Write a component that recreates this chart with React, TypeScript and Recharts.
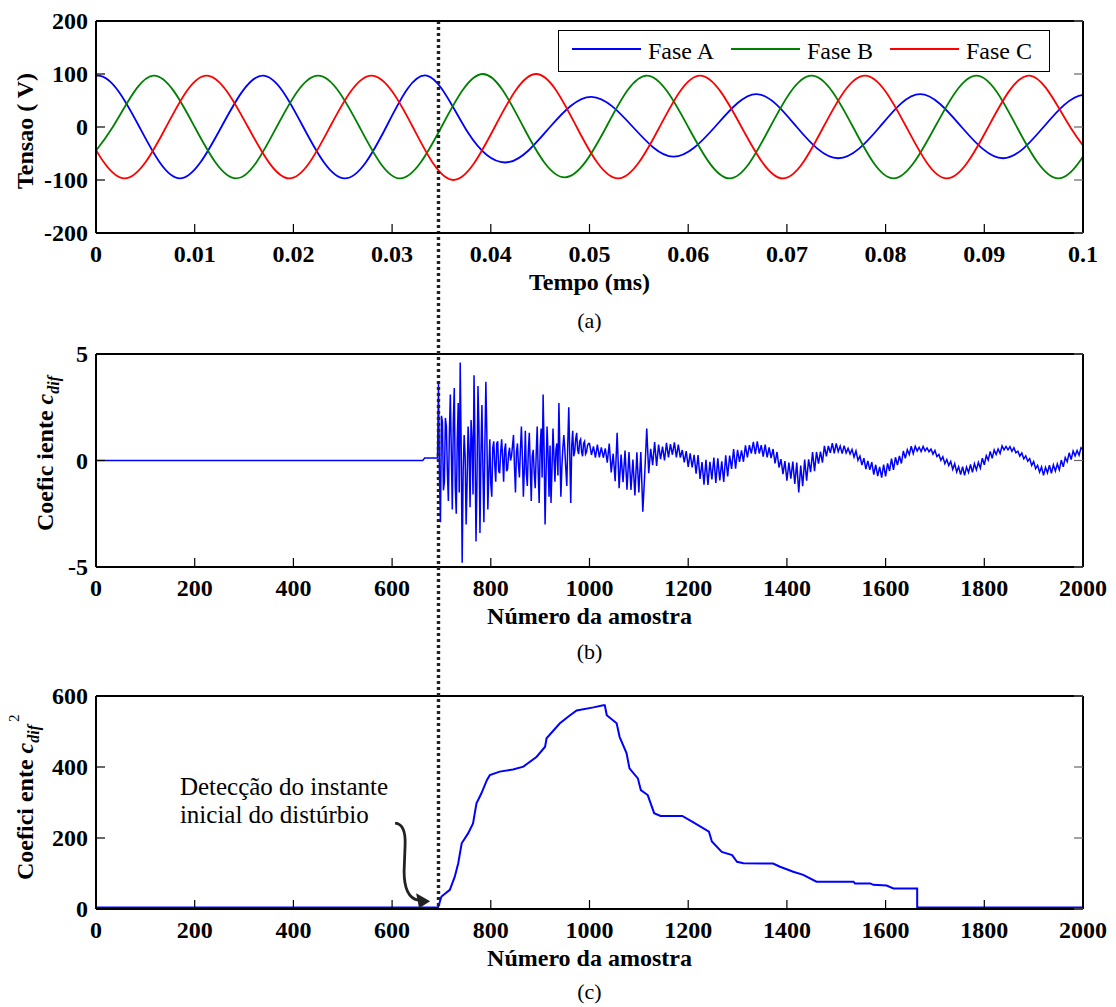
import React from "react";
import { LineChart, Line, XAxis, YAxis, ReferenceLine, ReferenceDot, Label } from "recharts";

const FONT = '"Liberation Serif", "Times New Roman", Times, serif';

// ---------- (a) tensões de fase: pontos lidos a cada quarto de período ----------
const faseA: [number, number][] = [
  [-0.004, 0], [0.0002, 97], [0.0044, 0], [0.0085, -97], [0.0127, 0], [0.0169, 97], [0.021, 0],
  [0.0252, -97], [0.0294, 0], [0.0335, 97], [0.0377, -11], [0.0419, -66], [0.046, 0], [0.0502, 57],
  [0.0544, 0], [0.0585, -56], [0.0627, 0], [0.0669, 62], [0.071, 0], [0.0752, -59], [0.0794, 0],
  [0.0835, 62], [0.0877, 0], [0.0919, -59], [0.096, 0], [0.1002, 61], [0.1044, 0],
];
const faseB: [number, number][] = [
  [-0.0025, -97], [0.0017, 0], [0.0058, 97], [0.01, 0], [0.0142, -97], [0.0183, 0], [0.0225, 97],
  [0.0267, 0], [0.0308, -97], [0.035, 0], [0.0392, 100], [0.0433, 0], [0.0475, -95], [0.0517, 0],
  [0.0558, 97], [0.06, 0], [0.0642, -97], [0.0683, 0], [0.0725, 97], [0.0767, 0], [0.0808, -97],
  [0.085, 0], [0.0892, 97], [0.0933, 0], [0.0975, -97], [0.1017, 0],
];
const faseC: [number, number][] = [
  [-0.0013, 0], [0.0029, -97], [0.0071, 0], [0.0112, 97], [0.0154, 0], [0.0196, -97], [0.0237, 0],
  [0.0279, 97], [0.0321, 0], [0.0362, -100], [0.0404, 0], [0.0446, 100], [0.0487, 0], [0.0529, -97],
  [0.0571, 0], [0.0612, 97], [0.0654, 0], [0.0696, -97], [0.0737, 0], [0.0779, 97], [0.0821, 0],
  [0.0862, -97], [0.0904, 0], [0.0946, 97], [0.0987, 0], [0.1029, -97],
];
const tempoTicks = [0, 0.01, 0.02, 0.03, 0.04, 0.05, 0.06, 0.07, 0.08, 0.09, 0.1];
const tensaoTicks = [-200, -100, 0, 100, 200];
const instanteDisturbio = 0.0347;

const fases = [
  { name: "Fase A", color: "#0000ff", pts: faseA },
  { name: "Fase B", color: "#008000", pts: faseB },
  { name: "Fase C", color: "#ff0000", pts: faseC },
];

// ---------- (b) coeficiente c_dif ----------
const amostraTicks = [0, 200, 400, 600, 800, 1000, 1200, 1400, 1600, 1800, 2000];
const cdifTicks = [-5, 0, 5];
const cdifInicio: [number, number][] = [[0, 0], [662, 0], [666, 0.12], [692, 0.12]];
// a cada 2 amostras a partir de 694
const cdifSurto = [
  3.6, -0.8, -2.9, 2.1, 1.8, -1.4, -1.0, 2.0, 1.6, -0.5, -1.9, 1.2, 3.1, 0.4, -2.3, 1.8, 3.4, -1.2,
  -2.5, 0.9, 2.7, -1.5, 4.6, 0.6, -4.8, -0.5, 1.2, 0.2, -3.0, -1.0, 1.6, 0.5, -2.2, 1.9, 1.0, -1.6,
  4.0, 0.8, -3.8, -0.9, 3.5, 1.5, -3.4, 0.3, 2.6, -0.4, -2.9, 0.7, 3.7, 1.2, -2.3, -0.6, 1.0, -1.1,
  -1.7, 0.6, 0.9, -0.2, -1.0, 0.8, 0.9, -0.5, -0.6, 0.4, 1.0, 0.1, -1.0, 0.5, 0.8, -0.5, -0.4, 0.3,
  0.6, 0.0, 0.2, 0.7, 1.2, -0.3, -1.5, 0.4, 0.8, -0.2, -0.8, 0.5, 1.6, 0.2, -1.7, -0.4, 1.4, -0.6,
  -1.2, 0.4, 1.3, -0.3, -1.9, 0.2, 0.5, -0.6, -1.3, 0.3, 1.6, -0.5, -2.0, 0.6, 1.5, -0.8, 3.1, 0.5,
  -3.0, -0.6, 1.6, 0.3, -1.7, 0.7, -2.0, -0.4, 1.5, 0.2, -1.0, 0.5, 0.8, -0.7, 2.7, 0.4, -1.7, -0.3,
  0.6, 1.2, 0.5, -0.4, -1.2, 0.8, 2.5, 0.3, -2.0, 0.7, 1.4, 0.2, 0.4, 1.0, 1.3, 0.5, 0.3, 0.9,
  1.0, 0.4, 0.2, 0.8, 0.9, 0.3, 0.4, 0.7, 0.8,
];
// a cada 4 amostras a partir de 1000
const cdifCauda = [
  0.8, 0.26, 0.66, 0.14, 0.74, 0.15, 0.62, 0.13, 0.57, -0.1,
  0.8, -0.56, 0.32, -0.97, 1.3, -1.3, 0.28, -1.02, 0.47, -1.37,
  0.4, -1.38, 0.04, -1.64, 0.38, -1.5, 0.4, -2.4, -0.6, 1.5,
  -0.6, 0.55, -0.22, 0.87, -0.26, 0.75, 0.06, 0.65, 0.0, 0.83,
  0.15, 0.77, 0.27, 0.85, 0.15, 0.75, 0.14, 0.49, -0.09, 0.44,
  -0.3, 0.33, -0.32, 0.27, -0.62, 0.25, -0.87, -0.07, -1.13, 0.03,
  -1.15, -0.06, -0.89, 0.14, -1.05, 0.1, -0.93, -0.04, -1.01, 0.24,
  -0.75, 0.23, -0.39, 0.54, -0.38, 0.5, -0.07, 0.48, -0.06, 0.71,
  0.15, 0.72, 0.33, 0.87, 0.3, 0.9, 0.33, 0.72, 0.18, 0.75,
  0.15, 0.61, 0.11, 0.54, -0.14, 0.4, -0.33, 0.06, -0.64, -0.03,
  -0.95, -0.1, -0.85, -0.05, -1.1, -0.1, -1.5, -0.24, -1.21, 0.04,
  -0.95, 0.05, -0.55, 0.4, -0.5, 0.4, -0.15, 0.42, -0.1, 0.69,
  0.2, 0.68, 0.36, 0.82, 0.34, 0.8, 0.42, 0.68, 0.32, 0.7,
  0.35, 0.57, 0.31, 0.52, 0.16, 0.45, 0.01, 0.21, -0.21, 0.11,
  -0.4, -0.02, -0.44, -0.08, -0.66, -0.2, -0.73, -0.3, -0.8, -0.19,
  -0.75, -0.14, -0.49, 0.09, -0.44, 0.15, -0.22, 0.21, -0.14, 0.45,
  0.1, 0.51, 0.28, 0.67, 0.32, 0.67, 0.45, 0.62, 0.42, 0.66,
  0.45, 0.59, 0.41, 0.54, 0.3, 0.47, 0.18, 0.28, 0.01, 0.18,
  -0.15, 0.05, -0.23, -0.04, -0.42, -0.15, -0.54, -0.29, -0.66, -0.29,
  -0.7, -0.31, -0.56, -0.19, -0.56, -0.15, -0.44, -0.09, -0.36, 0.11,
  -0.2, 0.23, 0.02, 0.43, 0.1, 0.5, 0.28, 0.54, 0.33, 0.69,
  0.5, 0.66, 0.5, 0.65, 0.43, 0.6, 0.36, 0.44, 0.21, 0.35,
  0.08, 0.22, -0.03, 0.09, -0.23, -0.05, -0.38, -0.23, -0.55, -0.3,
  -0.7, -0.32, -0.58, -0.22, -0.6, -0.2, -0.5, -0.16, -0.44, 0.02,
  -0.3, 0.14, -0.06, 0.36, 0.04, 0.45, 0.22, 0.47, 0.25, 0.6,
  0.5,
];

// ---------- (c) coeficiente c_dif^2 ----------
const cdif2Ticks = [0, 200, 400, 600];
const cdif2Pontos: [number, number][] = [
  [0, 4], [693, 4], [700, 35], [717, 54], [727, 91], [734, 129], [741, 185], [754, 213], [764, 241],
  [771, 298], [781, 326], [792, 363], [798, 377], [818, 387], [845, 393], [866, 401], [893, 429],
  [910, 457], [913, 481], [940, 523], [960, 545], [974, 559], [1008, 568], [1028, 574], [1031, 574],
  [1035, 546], [1055, 523], [1061, 485], [1075, 439], [1081, 396], [1098, 368], [1104, 335],
  [1118, 321], [1131, 270], [1144, 262], [1188, 262], [1208, 246], [1242, 218], [1248, 190],
  [1268, 161], [1289, 152], [1299, 133], [1312, 129], [1372, 128], [1386, 119], [1413, 105],
  [1433, 96], [1460, 77], [1535, 77], [1538, 72], [1569, 72], [1575, 68], [1602, 66], [1616, 58],
  [1664, 58], [1664, 4], [2000, 4],
];

const toRows = (pts: [number, number][]) => pts.map(([x, y]) => ({ x, y }));
const cdifData = [
  ...toRows(cdifInicio),
  ...cdifSurto.map((y, i) => ({ x: 694 + 2 * i, y })),
  ...cdifCauda.map((y, i) => ({ x: 1000 + 4 * i, y })),
];
const cdif2Data = toRows(cdif2Pontos);

// ---------- ticks para dentro, estilo MATLAB ----------
const tickStyle = { fontFamily: FONT, fontWeight: 700, fontSize: 24, fill: "#000" };
const TICK = 9;

const BottomTick = (p: any) => (
  <g>
    <line x1={p.x} y1={p.y} x2={p.x} y2={p.y - TICK} stroke="#000" strokeWidth={1.2} />
    <text x={p.x} y={p.y + 29} textAnchor="middle" style={tickStyle}>{p.payload.value}</text>
  </g>
);
const TopTick = (p: any) => (
  <line x1={p.x} y1={p.y} x2={p.x} y2={p.y + TICK} stroke="#000" strokeWidth={1.2} />
);
const LeftTick = (p: any) => (
  <g>
    <line x1={p.x} y1={p.y} x2={p.x + TICK} y2={p.y} stroke="#000" strokeWidth={1.2} />
    <text x={p.x - 8} y={p.y + 8} textAnchor="end" style={tickStyle}>{p.payload.value}</text>
  </g>
);
const RightTick = (p: any) => (
  <line x1={p.x} y1={p.y} x2={p.x - TICK} y2={p.y} stroke="#666" strokeWidth={1.2} />
);

const frame = { stroke: "#000", strokeWidth: 2 };

const xTitle = (title: string, caption: string, capDy: number) => (props: any) => {
  const vb = props.viewBox;
  const cx = vb.x + vb.width / 2;
  return (
    <g>
      <text x={cx} y={vb.y + 57} textAnchor="middle" style={tickStyle}>{title}</text>
      <text x={cx} y={vb.y + capDy} textAnchor="middle"
        style={{ fontFamily: FONT, fontSize: 22, fill: "#000" }}>{caption}</text>
    </g>
  );
};

const Axes = ({ xDomain, xTicks, yDomain, yTicks, title, caption, capDy, yLabel }: any) => [
  <XAxis key="xb" xAxisId={0} dataKey="x" type="number" domain={xDomain} ticks={xTicks} interval={0}
    allowDataOverflow tickLine={false} tickSize={0} tickMargin={0} height={60} axisLine={frame} tick={<BottomTick />}>
    <Label content={xTitle(title, caption, capDy)} />
  </XAxis>,
  <XAxis key="xt" xAxisId="top" orientation="top" type="number" domain={xDomain} ticks={xTicks} interval={0}
    allowDataOverflow tickLine={false} tickSize={0} tickMargin={0} height={1} axisLine={frame} tick={<TopTick />} />,
  <YAxis key="yl" yAxisId={0} type="number" domain={yDomain} ticks={yTicks} interval={0}
    allowDataOverflow tickLine={false} tickSize={0} tickMargin={0} width={80} axisLine={frame} tick={<LeftTick />}>
    <Label content={yLabel} />
  </YAxis>,
  <YAxis key="yr" yAxisId="right" orientation="right" type="number" domain={yDomain} ticks={yTicks} interval={0}
    allowDataOverflow tickLine={false} tickSize={0} tickMargin={0} width={1} axisLine={frame} tick={<RightTick />} />,
];

const yLabelA = (props: any) => {
  const vb = props.viewBox;
  const x = vb.x + 17;
  const y = vb.y + vb.height / 2 + 4;
  return (
    <text x={x} y={y} transform={`rotate(-90, ${x}, ${y})`} textAnchor="middle" style={tickStyle}>
      Tensao ( V)
    </text>
  );
};
const yLabelB = (props: any) => {
  const vb = props.viewBox;
  const x = vb.x + 37;
  const y = vb.y + 177;
  return (
    <text x={x} y={y} transform={`rotate(-90, ${x}, ${y})`} textAnchor="start" style={tickStyle}>
      <tspan>Coefic iente </tspan>
      <tspan fontStyle="italic">c</tspan>
      <tspan fontStyle="italic" fontSize={16} dy={6}>dif</tspan>
    </text>
  );
};
const yLabelC = (props: any) => {
  const vb = props.viewBox;
  const x = vb.x + 17;
  const y = vb.y + 184;
  return (
    <text x={x} y={y} transform={`rotate(-90, ${x}, ${y})`} textAnchor="start" style={tickStyle}>
      <tspan>Coefici ente </tspan>
      <tspan fontStyle="italic">c</tspan>
      <tspan fontStyle="italic" fontSize={16} dy={6}>dif</tspan>
      <tspan fontSize={15} fontWeight={400} dy={-20} dx={3}>2</tspan>
    </text>
  );
};

// linha pontilhada que desce do gráfico (a) até a base do gráfico (c)
const DottedDrop = (p: any) => {
  const top = Math.min(p.y1, p.y2);
  return (
    <line x1={p.x1} x2={p.x1} y1={top} y2={top + 887} stroke="#222" strokeWidth={3.4} strokeDasharray="3 3" />
  );
};

const Anotacao = (p: any) => (
  <text x={p.cx} y={p.cy} style={{ fontFamily: FONT, fontSize: 25, fill: "#000" }}>
    <tspan x={p.cx}>Detecção do instante</tspan>
    <tspan x={p.cx} dy={28}>inicial do distúrbio</tspan>
  </text>
);
const Seta = (p: any) => (
  <g transform={`translate(${p.cx}, ${p.cy})`}>
    <path d="M -35 -78 Q -24 -77 -25 -56 L -26 -30 Q -26 -4 -12 -1" fill="none" stroke="#222" strokeWidth={2.8} />
    <polygon points="0,0 -14,-8 -11,7" fill="#222" />
  </g>
);

const W = 1116;

export default function App() {
  return (
    <div style={{ position: "absolute", left: 0, top: 0, width: W, height: 1007, background: "#fff" }}>
      <style>{`.recharts-wrapper, .recharts-surface { overflow: visible !important; }`}</style>

      <div style={{ position: "absolute", left: 0, top: 0, zIndex: 3 }}>
        <LineChart width={W} height={300} margin={{ top: 20, right: 32, bottom: 7, left: 16 }}>
          {Axes({
            xDomain: [0, 0.1], xTicks: tempoTicks, yDomain: [-200, 200], yTicks: tensaoTicks,
            title: "Tempo (ms)", caption: "(a)", capDy: 95, yLabel: yLabelA,
          })}
          {fases.map((f) => (
            <Line key={f.name} data={toRows(f.pts)} dataKey="y" name={f.name} type="natural" stroke={f.color}
              strokeWidth={1.8} dot={false} isAnimationActive={false} />
          ))}
          <ReferenceLine x={instanteDisturbio} shape={<DottedDrop />} />
        </LineChart>
        <div style={{
          position: "absolute", left: 558, top: 30, width: 492, height: 42, boxSizing: "border-box",
          border: "1.5px solid #000", background: "#fff", display: "flex", alignItems: "center",
          paddingLeft: 13, fontFamily: FONT, fontSize: 24, color: "#000", whiteSpace: "nowrap",
        }}>
          {fases.map((f) => (
            <div key={f.name} style={{ display: "flex", alignItems: "center", marginRight: 17, flexShrink: 0 }}>
              <div style={{ width: 69, height: 2, background: f.color, marginRight: 7, marginTop: -4 }} />
              <span>{f.name}</span>
            </div>
          ))}
        </div>
      </div>

      <div style={{ position: "absolute", left: 0, top: 300, zIndex: 2 }}>
        <LineChart width={W} height={370} margin={{ top: 53, right: 32, bottom: 43, left: 16 }}>
          {Axes({
            xDomain: [0, 2000], xTicks: amostraTicks, yDomain: [-5, 5], yTicks: cdifTicks,
            title: "Número da amostra", caption: "(b)", capDy: 92, yLabel: yLabelB,
          })}
          <Line data={cdifData} dataKey="y" type="linear" stroke="#0000ff" strokeWidth={1.5}
            dot={false} isAnimationActive={false} />
        </LineChart>
      </div>

      <div style={{ position: "absolute", left: 0, top: 670, zIndex: 1 }}>
        <LineChart width={W} height={337} margin={{ top: 25, right: 32, bottom: 38, left: 16 }}>
          {Axes({
            xDomain: [0, 2000], xTicks: amostraTicks, yDomain: [0, 600], yTicks: cdif2Ticks,
            title: "Número da amostra", caption: "(c)", capDy: 90, yLabel: yLabelC,
          })}
          <Line data={cdif2Data} dataKey="y" type="linear" stroke="#0000ff" strokeWidth={2}
            dot={false} isAnimationActive={false} />
          <ReferenceDot x={170} y={321} shape={<Anotacao />} />
          <ReferenceDot x={677} y={22} shape={<Seta />} />
        </LineChart>
      </div>
    </div>
  );
}
